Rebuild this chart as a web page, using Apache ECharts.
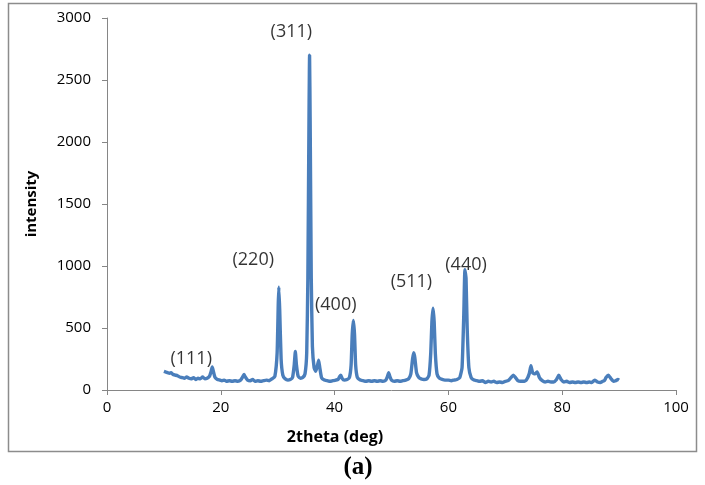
<!DOCTYPE html>
<html><head><meta charset="utf-8">
<script src="https://cdn.jsdelivr.net/npm/echarts@6/dist/echarts.min.js"></script>
<style>html,body{margin:0;padding:0;background:#fff}#c{width:705px;height:485px}</style>
</head><body><div id="c"></div>
<script>
var twoTheta = [10.0,10.3,10.6,11.0,11.3,11.6,12.0,12.4,12.8,13.2,13.6,14.0,14.4,14.8,15.2,15.6,16.0,16.4,16.8,17.2,17.6,18.0,18.3,18.5,18.7,19.0,19.4,19.8,20.2,20.6,21.0,21.5,22.0,22.5,23.0,23.5,23.9,24.1,24.3,24.7,25.2,25.6,26.0,26.5,27.0,27.5,28.0,28.5,29.0,29.5,29.9,30.1,30.2,30.35,30.6,30.9,31.3,31.8,32.2,32.6,32.9,33.1,33.3,33.6,34.0,34.4,34.8,35.1,35.3,35.5,35.6,35.7,35.9,36.1,36.4,36.7,37.0,37.2,37.4,37.7,38.2,38.7,39.2,39.7,40.2,40.6,40.9,41.1,41.3,41.7,42.2,42.6,42.9,43.1,43.3,43.5,43.7,44.0,44.5,45.0,45.5,46.0,46.5,47.0,47.5,48.0,48.5,49.0,49.3,49.5,49.7,50.0,50.5,51.0,51.5,52.0,52.5,53.0,53.4,53.7,53.9,54.1,54.4,54.8,55.2,55.7,56.2,56.6,56.9,57.1,57.3,57.5,57.7,58.0,58.4,58.9,59.4,60.0,60.5,61.0,61.5,62.0,62.4,62.7,62.9,63.1,63.3,63.6,64.0,64.5,65.0,65.5,66.0,66.5,67.0,67.5,68.0,68.5,69.0,69.5,70.0,70.5,71.0,71.4,71.8,72.2,72.7,73.2,73.7,74.2,74.5,74.8,75.2,75.6,76.0,76.5,77.0,77.5,78.0,78.5,79.0,79.4,79.8,80.3,80.8,81.3,81.8,82.3,82.8,83.3,83.8,84.3,84.8,85.2,85.7,86.2,86.7,87.1,87.4,87.7,88.1,88.6,89.0,89.4,89.8,90.0];
var intensity = [150,145,140,135,140,125,120,115,105,100,95,105,95,90,100,85,95,90,105,90,95,110,150,185,150,100,85,80,75,80,70,75,70,75,70,80,110,125,105,80,75,85,70,75,70,75,80,75,90,110,300,700,830,650,250,120,90,80,85,100,200,310,200,110,95,100,130,300,900,2200,2700,2200,900,350,180,150,200,240,180,100,80,75,70,75,80,85,110,120,95,80,85,100,200,450,560,450,200,100,80,75,70,75,70,75,70,75,70,80,110,140,110,80,70,75,70,75,80,90,130,250,300,260,140,100,90,85,90,120,300,550,660,550,300,130,95,85,80,80,75,80,85,100,180,600,970,900,500,180,100,80,75,70,75,60,70,65,70,60,65,60,70,75,100,120,100,75,70,70,80,130,195,140,130,145,100,75,65,70,65,65,85,120,85,65,70,60,65,60,65,60,65,60,65,60,80,65,60,70,75,100,120,90,70,75,85,80,95,100];
var peakLabels = ['(111)','(220)','(311)','(400)','(511)','(440)'];
var peakLabelX = [14.8,25.7,32.4,40.2,53.5,63.1];
var peakLabelY = [255,1048,2890,690,870,1010];
var xTicks = {min:0,max:100,interval:20};
var yTicks = {min:0,max:3000,interval:500};

var lineData = twoTheta.map(function(t,i){return [t,intensity[i]];});
var labelData = peakLabels.map(function(s,i){return {value:[peakLabelX[i],peakLabelY[i]],name:s};});
var axisGray = '#868686';
var chart = echarts.init(document.getElementById('c'),null,{renderer:'canvas'});
chart.setOption({
  animation:false,
  backgroundColor:'#fff',
  grid:{left:107,right:29,top:18,bottom:95},
  xAxis:{type:'value',min:xTicks.min,max:xTicks.max,interval:xTicks.interval,
    axisLine:{lineStyle:{color:axisGray,width:1}},
    axisTick:{show:true,length:5,lineStyle:{color:axisGray}},
    splitLine:{show:false},
    axisLabel:{color:'#000',fontFamily:'Open Sans',fontSize:15,margin:10}},
  yAxis:{type:'value',min:yTicks.min,max:yTicks.max,interval:yTicks.interval,
    axisLine:{show:true,lineStyle:{color:axisGray,width:1}},
    axisTick:{show:true,length:5,lineStyle:{color:axisGray}},
    splitLine:{show:false},
    axisLabel:{color:'#000',fontFamily:'Open Sans',fontSize:15,margin:16,formatter:function(v){return String(v);}}},
  series:[
    {type:'line',data:lineData,showSymbol:false,smooth:0.15,
     lineStyle:{color:'#4A7EBB',width:3.4},itemStyle:{color:'#4A7EBB'},z:2},
    {type:'scatter',data:labelData,symbolSize:0,silent:true,
     label:{show:true,position:'inside',formatter:'{b}',color:'#000',fontFamily:'Open Sans',fontSize:18},z:3}
  ],
  graphic:[
    {type:'rect',shape:{x:8.5,y:3.5,width:688,height:448},style:{fill:'none',stroke:'#8c8c8c',lineWidth:1.5},z:-1},
    {type:'text',x:335,y:437,style:{text:'2theta (deg)',font:'bold 16px "Open Sans"',fill:'#000',textAlign:'center',textVerticalAlign:'middle'}},
    {type:'text',x:32,y:204,rotation:Math.PI/2,style:{text:'intensity',font:'bold 15px "Open Sans"',fill:'#000',textAlign:'center',textVerticalAlign:'middle'}},
    {type:'text',x:358,y:468,style:{text:'(a)',font:'bold 25px "Liberation Serif"',fill:'#000',textAlign:'center',textVerticalAlign:'middle'}}
  ]
});
</script></body></html>
